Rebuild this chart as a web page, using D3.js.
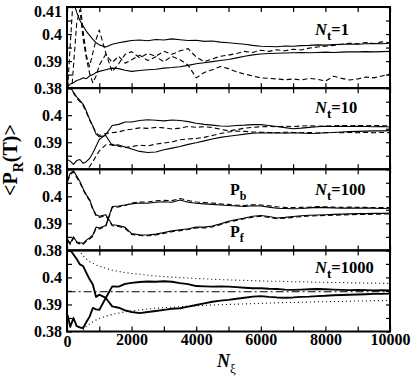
<!DOCTYPE html>
<html>
<head>
<meta charset="utf-8">
<script src="https://cdn.jsdelivr.net/npm/d3@7"></script>
<style>
  body { margin: 0; background: #fff; }
  svg { display: block; background: #fff; }
  text { font-family: "Liberation Serif", "Times New Roman", serif; font-weight: bold; fill: #000; }
</style>
</head>
<body>
<svg id="chart"></svg>
<script>
// sample points along N_xi shared by every curve
const N_XI = [20, 100, 200, 300, 400, 500, 600, 700, 800, 900, 1000, 1200, 1400, 1600, 1800, 2000,
  2250, 2500, 2750, 3000, 3250, 3500, 3750, 4000, 4250, 4500, 4750, 5000, 5250, 5500, 5750, 6000,
  6250, 6500, 6750, 7000, 7250, 7500, 7750, 8000, 8250, 8500, 8750, 9000, 9250, 9500, 9750, 10000];

// N_t = 1
const p1SolidUp = [0.425, 0.418, 0.412, 0.408, 0.405, 0.403, 0.401, 0.3995, 0.398, 0.3968, 0.396, 0.3952, 0.3962, 0.3968, 0.3972, 0.3976,
  0.3978, 0.3975, 0.398, 0.3978, 0.3982, 0.3979, 0.3976, 0.3977, 0.3973, 0.3974, 0.397, 0.3968, 0.3965, 0.3962, 0.3958, 0.3955,
  0.3954, 0.3953, 0.3956, 0.3955, 0.3957, 0.3958, 0.396, 0.3959, 0.3961, 0.3962, 0.3963, 0.3962, 0.3964, 0.3965, 0.3964, 0.3966];
const p1SolidLow = [0.3805, 0.3815, 0.382, 0.3828, 0.3832, 0.3838, 0.3835, 0.3845, 0.385, 0.3858, 0.3862, 0.3868, 0.3874, 0.3872, 0.3866, 0.3862,
  0.3865, 0.3868, 0.387, 0.3874, 0.3876, 0.3879, 0.3884, 0.389, 0.3894, 0.3898, 0.3902, 0.3906, 0.3912, 0.3918, 0.3923, 0.3926,
  0.3928, 0.3929, 0.393, 0.3931, 0.3932, 0.3931, 0.3932, 0.3933, 0.3932, 0.3933, 0.3934, 0.3934, 0.3935, 0.3934, 0.3935, 0.3936];
const p1DashA = [0.38, 0.396, 0.415, 0.42, 0.412, 0.401, 0.392, 0.388, 0.393, 0.398, 0.4015, 0.393, 0.386, 0.389, 0.3925, 0.3935,
  0.3912, 0.3928, 0.3918, 0.3936, 0.3925, 0.3938, 0.3946, 0.3915, 0.3898, 0.3908, 0.3918, 0.3922, 0.3928, 0.3936, 0.3932, 0.394,
  0.3936, 0.3942, 0.3938, 0.3944, 0.3941, 0.3948, 0.3952, 0.3955, 0.3958, 0.3962, 0.3966, 0.3964, 0.3969, 0.3965, 0.3971, 0.3968];
const p1DashB = [0.383, 0.372, 0.388, 0.404, 0.409, 0.398, 0.391, 0.3855, 0.382, 0.3845, 0.3885, 0.3925, 0.3895, 0.3918, 0.3892, 0.3905,
  0.3922, 0.3902, 0.3916, 0.3898, 0.3918, 0.3905, 0.3885, 0.3838, 0.3858, 0.3868, 0.388, 0.3872, 0.386, 0.3852, 0.3845, 0.3838,
  0.3836, 0.3834, 0.3831, 0.3834, 0.383, 0.3836, 0.3833, 0.3826, 0.3844, 0.3836, 0.383, 0.3834, 0.3841, 0.3838, 0.3845, 0.3852];

// N_t = 10
const p2SolidUp = [0.3835, 0.383, 0.3818, 0.3832, 0.3836, 0.3822, 0.3828, 0.384, 0.386, 0.3885, 0.391, 0.3928, 0.3962, 0.3966, 0.3975, 0.3975,
  0.398, 0.3983, 0.3981, 0.3979, 0.3982, 0.398, 0.3976, 0.397, 0.3966, 0.3963, 0.396, 0.3959, 0.3962, 0.3963, 0.3965, 0.3965,
  0.3962, 0.3958, 0.3954, 0.395, 0.3952, 0.3955, 0.3957, 0.3959, 0.3958, 0.3959, 0.3958, 0.3959, 0.3958, 0.3957, 0.3958, 0.3956];
const p2SolidLow = [0.415, 0.4105, 0.4085, 0.4068, 0.4055, 0.404, 0.4015, 0.3985, 0.396, 0.393, 0.392, 0.3925, 0.3888, 0.389, 0.3882, 0.3875,
  0.3866, 0.3862, 0.3864, 0.3872, 0.3878, 0.3884, 0.3892, 0.3898, 0.3905, 0.3912, 0.3918, 0.3922, 0.3926, 0.393, 0.3933, 0.3935,
  0.3934, 0.3935, 0.3933, 0.3935, 0.3934, 0.3932, 0.3933, 0.3935, 0.3936, 0.3938, 0.3939, 0.394, 0.3941, 0.3942, 0.3942, 0.3943];
const p2DashUp = [0.414, 0.4102, 0.4082, 0.4062, 0.405, 0.4035, 0.401, 0.3982, 0.3958, 0.3935, 0.3925, 0.3932, 0.3935, 0.3938, 0.3945, 0.3948,
  0.3953, 0.3951, 0.3955, 0.3953, 0.3949, 0.3952, 0.3958, 0.3955, 0.3957, 0.3954, 0.3948, 0.3942, 0.3946, 0.3952, 0.3955, 0.3957,
  0.3958, 0.3957, 0.3959, 0.3958, 0.396, 0.3961, 0.3959, 0.396, 0.3961, 0.3962, 0.3961, 0.3962, 0.3961, 0.3962, 0.3961, 0.3961];
const p2DashLow = [0.378, 0.376, 0.375, 0.376, 0.377, 0.378, 0.3795, 0.381, 0.3828, 0.3848, 0.3868, 0.389, 0.3892, 0.3885, 0.388, 0.3884,
  0.3889, 0.3886, 0.3893, 0.3897, 0.3901, 0.3909, 0.3912, 0.3914, 0.3918, 0.3925, 0.3932, 0.3938, 0.3941, 0.394, 0.3938, 0.3937,
  0.3936, 0.3935, 0.3937, 0.3936, 0.3935, 0.3936, 0.3934, 0.3935, 0.3936, 0.3935, 0.3936, 0.3935, 0.3936, 0.3935, 0.3936, 0.3935];

// N_t = 100
const p3SolidUp = [0.384, 0.3826, 0.385, 0.3832, 0.3828, 0.3826, 0.3838, 0.3846, 0.3857, 0.3886, 0.3883, 0.3892, 0.3962, 0.3964, 0.3968, 0.3972,
  0.3975, 0.3974, 0.3978, 0.398, 0.3978, 0.3986, 0.3978, 0.3974, 0.3972, 0.397, 0.3968, 0.3966, 0.3964, 0.3962, 0.3965, 0.3964,
  0.396, 0.3956, 0.3955, 0.3954, 0.3955, 0.3957, 0.3959, 0.3958, 0.3957, 0.3956, 0.3957, 0.3956, 0.3957, 0.3956, 0.3955, 0.3956];
const p3DashUp = [0.3835, 0.3822, 0.3846, 0.3828, 0.3824, 0.3822, 0.3834, 0.3842, 0.3852, 0.3882, 0.3879, 0.3888, 0.3958, 0.3961, 0.3966, 0.3975,
  0.3979, 0.3979, 0.3983, 0.3985, 0.3984, 0.3992, 0.3984, 0.3979, 0.3977, 0.3975, 0.3972, 0.397, 0.3967, 0.3966, 0.3969, 0.3968,
  0.3965, 0.3961, 0.3959, 0.3958, 0.3959, 0.396, 0.3962, 0.3961, 0.396, 0.3959, 0.396, 0.3959, 0.3959, 0.3958, 0.3958, 0.3958];
const p3SolidLow = [0.406, 0.4085, 0.4095, 0.4075, 0.4055, 0.4028, 0.4005, 0.3988, 0.3955, 0.3932, 0.3926, 0.3932, 0.3895, 0.3892, 0.3885, 0.3862,
  0.3858, 0.3857, 0.386, 0.3866, 0.3872, 0.3876, 0.388, 0.3886, 0.3886, 0.389, 0.3898, 0.3908, 0.3914, 0.392, 0.3926, 0.3929,
  0.3925, 0.392, 0.3922, 0.3925, 0.3928, 0.393, 0.3931, 0.3932, 0.3933, 0.3934, 0.3935, 0.3936, 0.3936, 0.3937, 0.3937, 0.3938];
const p3DashLow = [0.4055, 0.408, 0.409, 0.407, 0.405, 0.4024, 0.4001, 0.3984, 0.3951, 0.3928, 0.3922, 0.3928, 0.3891, 0.3888, 0.3881, 0.3859,
  0.3855, 0.3854, 0.3857, 0.3863, 0.3869, 0.3873, 0.3877, 0.3883, 0.3883, 0.3887, 0.3895, 0.3905, 0.3911, 0.3917, 0.3923, 0.3926,
  0.3922, 0.3917, 0.3919, 0.3922, 0.3925, 0.3927, 0.3928, 0.3929, 0.393, 0.3931, 0.3932, 0.3933, 0.3933, 0.3934, 0.3934, 0.3935];

// N_t = 1000
const p4Up = [0.386, 0.3817, 0.385, 0.382, 0.3815, 0.3813, 0.3835, 0.3855, 0.3887, 0.3882, 0.388, 0.3924, 0.3967, 0.3966, 0.3976, 0.398,
  0.3983, 0.3985, 0.3984, 0.3986, 0.3984, 0.3979, 0.3975, 0.3968, 0.3967, 0.3966, 0.3967, 0.3966, 0.3964, 0.3962, 0.396, 0.396,
  0.3958, 0.3957, 0.3955, 0.3954, 0.3955, 0.3956, 0.3957, 0.3956, 0.3955, 0.3954, 0.3953, 0.3954, 0.3953, 0.3952, 0.3953, 0.3952];
const p4Low = [0.4105, 0.4102, 0.4085, 0.4068, 0.4048, 0.4042, 0.4017, 0.3993, 0.3974, 0.3928, 0.3936, 0.3924, 0.3893, 0.3888, 0.3878, 0.3872,
  0.3868, 0.3872, 0.3876, 0.388, 0.3884, 0.3886, 0.3892, 0.3898, 0.3904, 0.391, 0.3914, 0.3917, 0.3921, 0.3925, 0.3929, 0.3931,
  0.3928, 0.3926, 0.3925, 0.3926, 0.3928, 0.3929, 0.3931, 0.3932, 0.3934, 0.3935, 0.3936, 0.3937, 0.3938, 0.3939, 0.3939, 0.394];
const p4DotUp = [null, null, null, 0.4115, 0.4095, 0.408, 0.4068, 0.4059, 0.4052, 0.4046, 0.4042, 0.4034, 0.4027, 0.4022, 0.4018, 0.4015,
  0.4012, 0.4008, 0.4005, 0.4003, 0.4001, 0.3999, 0.3998, 0.3996, 0.3995, 0.3993, 0.3992, 0.3991, 0.399, 0.3989, 0.3988, 0.3987,
  0.3986, 0.3986, 0.3985, 0.3984, 0.3984, 0.3983, 0.3982, 0.3982, 0.3981, 0.3981, 0.398, 0.398, 0.3979, 0.3979, 0.3978, 0.3978];
const p4DotLow = [null, null, null, null, null, 0.3805, 0.3818, 0.3828, 0.3836, 0.3843, 0.3848, 0.3857, 0.3863, 0.3868, 0.3873, 0.3876,
  0.388, 0.3883, 0.3886, 0.3888, 0.389, 0.3892, 0.3894, 0.3895, 0.3897, 0.3898, 0.3899, 0.39, 0.3901, 0.3902, 0.3903, 0.3904,
  0.3905, 0.3906, 0.3907, 0.3907, 0.3908, 0.3909, 0.391, 0.391, 0.3911, 0.3911, 0.3912, 0.3913, 0.3913, 0.3914, 0.3914, 0.3915];
const P_LIMIT = 0.3947; // dash-dot level in the last panel

const NT_LABELS = ["1", "10", "100", "1000"];
const X_TICKS = [0, 1000, 2000, 3000, 4000, 5000, 6000, 7000, 8000, 9000, 10000];
const X_LABELS = [0, 2000, 4000, 6000, 8000, 10000];
const Y_TICKS = [0.38, 0.385, 0.39, 0.395, 0.4, 0.405, 0.41];
const Y_LABELS = ["0.38", "0.39", "0.4", "0.41"];

const WIDTH = 415;
const HEIGHT = 388;
const MARGIN = { top: 7, left: 67, right: 25, bottom: 56.5 };
const FONT_SIZE = 16;
const plotW = WIDTH - MARGIN.left - MARGIN.right;
const panelH = (HEIGHT - MARGIN.top - MARGIN.bottom) / 4;
const LABEL_DY = [28, 25, 25.5, 22.5];

const STYLES = {
  solid: { dash: null, w: 1.1 },
  dashed: { dash: "5,3", w: 1.1 },
  thick: { dash: null, w: 1.9 },
  dotted: { dash: "1,3", w: 1.1 },
  dashdot: { dash: "8,3,2,3", w: 1.2 }
};

const PANELS = [
  [[p1SolidUp, "solid"], [p1SolidLow, "solid"], [p1DashA, "dashed"], [p1DashB, "dashed"]],
  [[p2SolidUp, "solid"], [p2SolidLow, "solid"], [p2DashUp, "dashed"], [p2DashLow, "dashed"]],
  [[p3SolidUp, "solid"], [p3DashUp, "dashed"], [p3SolidLow, "solid"], [p3DashLow, "dashed"]],
  [[p4DotUp, "dotted"], [p4DotLow, "dotted"], [N_XI.map(() => P_LIMIT), "dashdot"], [p4Up, "thick"], [p4Low, "thick"]]
];

const $svg = d3.select('#chart').attr('width', WIDTH).attr('height', HEIGHT);

const scaleX = d3.scaleLinear().domain([0, 10000]).range([0, plotW]);
const scaleY = d3.scaleLinear().domain([0.38, 0.41]).range([panelH, 0]);

const line = d3.line()
  .defined(d => d[1] != null)
  .x(d => scaleX(d[0]))
  .y(d => scaleY(d[1]));

const isLabel = d => Y_LABELS.includes(String(+d.toFixed(3)));

function drawPanel(i) {
  const top = MARGIN.top + i * panelH;
  const $g = $svg.append('g').attr('transform', `translate(${MARGIN.left},${top})`);

  $svg.append('clipPath').attr('id', `clip${i}`)
    .append('rect').attr('width', plotW).attr('height', panelH);

  const $lines = $g.append('g').attr('clip-path', `url(#clip${i})`);
  PANELS[i].forEach(([values, style]) => {
    const st = STYLES[style];
    $lines.append('path')
      .datum(N_XI.map((n, k) => [n, values[k]]))
      .attr('d', line)
      .attr('fill', 'none')
      .attr('stroke', '#000')
      .attr('stroke-width', st.w)
      .attr('stroke-dasharray', st.dash)
      .attr('stroke-linejoin', 'round');
  });

  //AXES, all ticks pointing inward
  const last = i === 3;
  const axisB = d3.axisBottom(scaleX).tickValues(X_TICKS).tickSize(-5).tickPadding(4)
    .tickFormat(d => last && X_LABELS.includes(d) ? d : '');
  const axisT = d3.axisTop(scaleX).tickValues(X_TICKS).tickSize(-5).tickFormat('');
  const axisL = d3.axisLeft(scaleY).tickValues(Y_TICKS).tickSize(-5).tickPadding(5)
    .tickFormat(d => (isLabel(d) && (i === 0 || d < 0.409)) ? String(+d.toFixed(3)) : '');
  const axisR = d3.axisRight(scaleY).tickValues(Y_TICKS).tickSize(-4).tickFormat('');

  $g.append('g').attr('transform', `translate(0,${panelH})`).call(axisB);
  $g.append('g').call(axisT);
  $g.append('g').call(axisL);
  $g.append('g').attr('transform', `translate(${plotW},0)`).call(axisR);

  $g.selectAll('.domain').remove();
  $g.selectAll('.tick line').attr('stroke', '#000').attr('stroke-width', 1.2);
  $g.selectAll('.tick text')
    .style('font-size', `${FONT_SIZE}px`)
    .style('font-family', '"Liberation Serif", "Times New Roman", serif')
    .style('font-weight', 'bold')
    .attr('fill', '#000');
  // the top label sits a little lower so it stays inside the figure
  $g.selectAll('.tick text').filter(d => d > 0.409).attr('dy', '0.6em');

  $g.append('rect')
    .attr('width', plotW).attr('height', panelH)
    .attr('fill', 'none').attr('stroke', '#000').attr('stroke-width', 2);

  // N_t label
  const $lab = $g.append('text')
    .attr('x', 315 - MARGIN.left).attr('y', LABEL_DY[i])
    .style('font-size', '16.5px');
  $lab.append('tspan').text('N').style('font-style', 'italic');
  $lab.append('tspan').text('t').attr('dy', 5).style('font-size', '13px');
  $lab.append('tspan').text('=' + NT_LABELS[i]).attr('dy', -5);

  if (i === 2) {
    [['b', 195], ['f', 237]].forEach(([sub, y]) => {
      const $p = $g.append('text').attr('x', 230 - MARGIN.left).attr('y', y - top)
        .style('font-size', '16px');
      $p.append('tspan').text('P');
      $p.append('tspan').text(sub).attr('dy', 5).style('font-size', '12px');
    });
  }
}

d3.range(4).forEach(drawPanel);

// axis titles
const $xt = $svg.append('text').attr('x', 217).attr('y', 367).style('font-size', '18px');
$xt.append('tspan').text('N').style('font-style', 'italic');
$xt.append('tspan').text('ξ').attr('dy', 6).style('font-size', '13px').style('font-weight', 'normal');

const $yt = $svg.append('text')
  .attr('transform', 'translate(17,160) rotate(-90)')
  .attr('text-anchor', 'middle')
  .style('font-size', '20px');
$yt.append('tspan').text('<P');
$yt.append('tspan').text('R').attr('dy', 6).style('font-size', '14px');
$yt.append('tspan').text('(T)>').attr('dy', -6);
</script>
</body>
</html>
